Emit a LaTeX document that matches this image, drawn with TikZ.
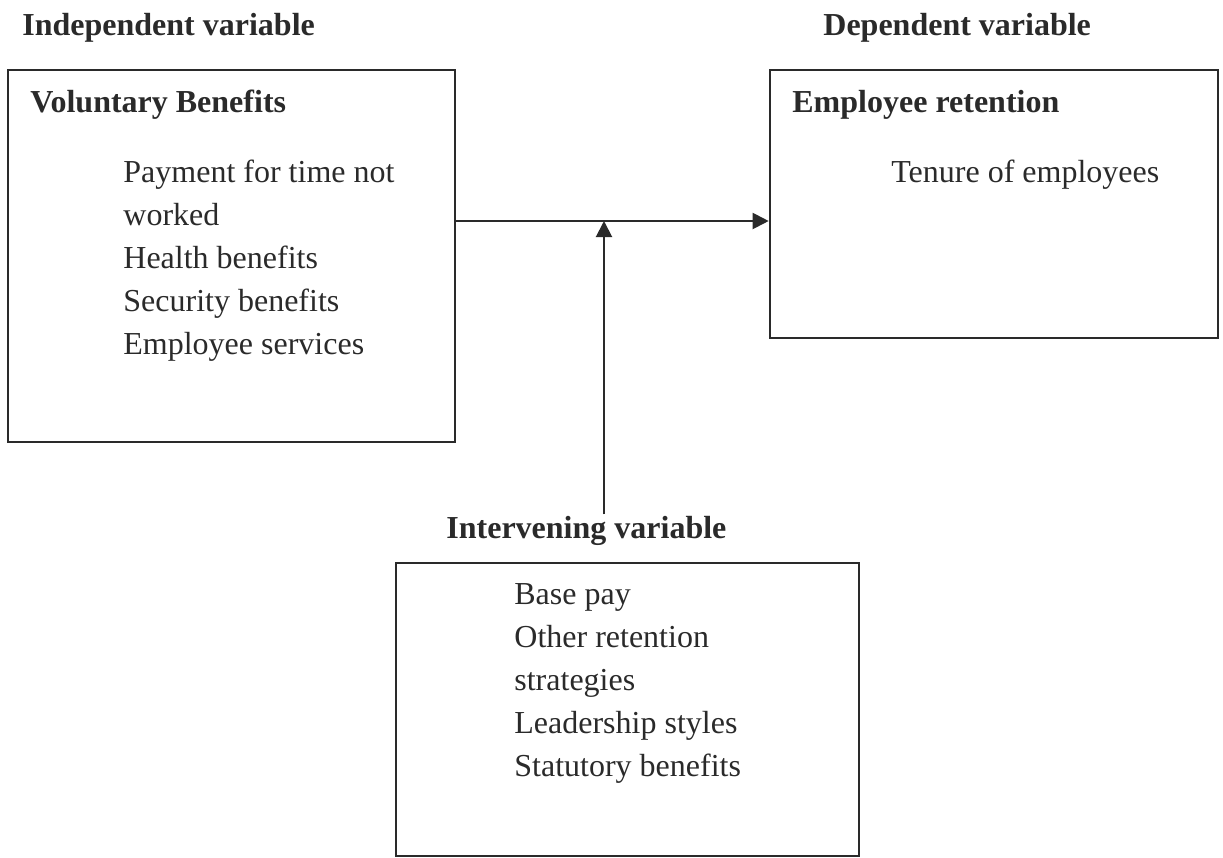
\documentclass[tikz,border=0pt]{standalone}
\usepackage{fontspec}
\setmainfont{Liberation Serif}
\usetikzlibrary{arrows.meta,fit}
\definecolor{ink}{RGB}{42,42,42}
\tikzset{
  box/.style={draw=ink,line width=1.3pt,inner sep=0pt},
  txt/.style={anchor=base west,inner sep=0pt,text=ink},
  head/.style={txt,font=\fontsize{16}{21.5}\selectfont\bfseries},
  link/.style={draw=ink,line width=1pt,-{Triangle[length=8pt,width=8pt]}}
}
\begin{document}
\begin{tikzpicture}[x=0.5pt,y=-0.5pt,font=\fontsize{16}{21.5}\selectfont]
\useasboundingbox (0,0) rectangle (1223,858);
\node[box,fit={(8,70) (455,442)}] (vb) {};
\node[box,fit={(770,70) (1218,338)}] (er) {};
\node[box,fit={(396,563) (859,856)}] (ivb) {};
\node[head] (iv0) at (22,35) {Independent variable};
\node[head] (dv0) at (823,35) {Dependent variable};
\node[head] (vbt) at (30,112) {Voluntary Benefits};
\node[head] (ert) at (792,112) {Employee retention};
\node[head] (iv) at (446,538) {Intervening variable};
\foreach \t [count=\i] in {Payment for time not,worked,Health benefits,Security benefits,Employee services}
  \node[txt] (vb\i) at (123,139+43*\i) {\t};
\node[txt] (er1) at (891,182) {Tenure of employees};
\foreach \t [count=\i] in {Base pay,Other retention,strategies,Leadership styles,Statutory benefits}
  \node[txt] (ivb\i) at (514,561+43*\i) {\t};
\coordinate (mid) at (604,221);
\draw[link] (vb.east |- mid) -- (er.west |- mid);
\draw[link] ([yshift=0.5pt]iv.north -| mid) -- (mid);
\end{tikzpicture}
\end{document}
